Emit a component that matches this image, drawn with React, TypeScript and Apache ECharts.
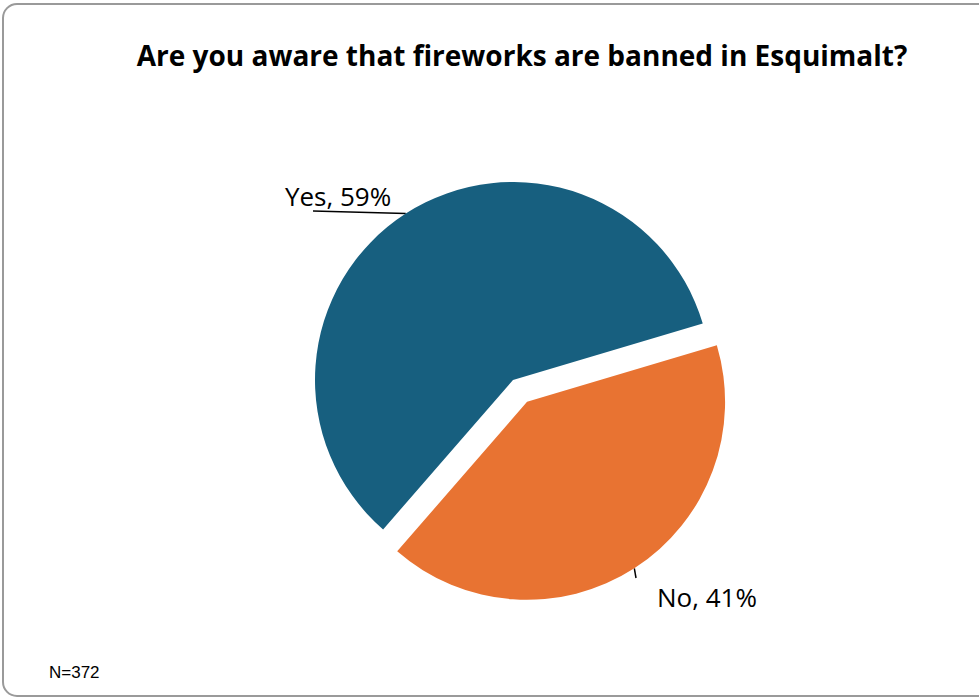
import React, { useEffect, useRef } from "react";
import * as echarts from "echarts";

const categories = ["Yes", "No"];
const percentValues = [59, 41];
const sliceColors = ["#175F7F", "#E87332"];
const explodedCategory = "No";
const titleText = "Are you aware that fireworks are banned in Esquimalt?";
const noteText = "N=372";

export default function App() {
  const ref = useRef<HTMLDivElement>(null);
  useEffect(() => {
    if (!ref.current) return;
    const chart = echarts.init(ref.current, undefined, { renderer: "svg" });

    const center = [513, 380];
    const radius = 198;
    const startAngle = 229;
    const explodeDist = 26;

    // compute the exploded slice's mid-angle from the data
    const total = percentValues.reduce((a, b) => a + b, 0);
    const exIdx = categories.indexOf(explodedCategory);
    const before = percentValues.slice(0, exIdx).reduce((a, b) => a + b, 0);
    const midFrac = (before + percentValues[exIdx] / 2) / total;
    const midAngle = ((startAngle - 360 * midFrac) * Math.PI) / 180;
    const center2 = [
      center[0] + explodeDist * Math.cos(midAngle),
      center[1] - explodeDist * Math.sin(midAngle),
    ];

    const labelPos: Record<string, { x: number; y: number; end: number[] }> = {
      Yes: { x: 338, y: 196, end: [313, 211] },
      No: { x: 707, y: 597, end: [636, 578] },
    };

    const makeSeries = (showCat: (c: string) => boolean, c: number[]) => ({
      type: "pie",
      center: c,
      radius,
      startAngle,
      clockwise: true,
      avoidLabelOverlap: false,
      emphasis: { disabled: true },
      label: {
        show: true,
        position: "outside",
        formatter: (p: any) => `${p.name}, ${p.value}%`,
        fontFamily: "Open Sans",
        fontSize: 26,
        color: "#000000",
      },
      labelLine: {
        show: true,
        length: 10,
        length2: 10,
        lineStyle: { color: "#000000", width: 1.5 },
      },
      labelLayout: (params: any) => {
        const name = categories[params.dataIndex];
        const lp = labelPos[name];
        const pts = params.labelLinePoints;
        const out: any = {
          x: lp.x,
          y: lp.y,
          align: "center",
          verticalAlign: "middle",
        };
        if (pts && pts.length) {
          out.labelLinePoints = [pts[0], lp.end, lp.end];
        }
        return out;
      },
      data: categories.map((cat, i) => {
        const vis = showCat(cat);
        return {
          name: cat,
          value: percentValues[i],
          itemStyle: { color: vis ? sliceColors[i] : "rgba(0,0,0,0)", borderWidth: 0 },
          label: { show: vis },
          labelLine: { show: vis },
          silent: !vis,
        };
      }),
    });

    chart.setOption({
      animation: false,
      backgroundColor: "#ffffff",
      title: {
        text: titleText,
        left: 517,
        top: 36,
        textAlign: "center",
        textStyle: {
          fontFamily: "Open Sans",
          fontWeight: "bold",
          fontSize: 28,
          color: "#000000",
        },
      },
      graphic: [
        {
          type: "rect",
          shape: { x: 3, y: 4, width: 1000, height: 692, r: 14 },
          style: { fill: "none", stroke: "#9a9a9a", lineWidth: 2 },
          silent: true,
          z: 10,
        },
        {
          type: "text",
          x: 49,
          y: 672,
          style: {
            text: noteText,
            fontFamily: "Liberation Sans",
            fontSize: 17,
            fill: "#000000",
            verticalAlign: "middle",
          },
        },
      ],
      series: [
        makeSeries((c) => c !== explodedCategory, center),
        makeSeries((c) => c === explodedCategory, center2),
      ],
    });
    return () => chart.dispose();
  }, []);
  return (
    <div
      ref={ref}
      style={{ position: "fixed", left: 0, top: 0, width: 979, height: 698 }}
    />
  );
}
